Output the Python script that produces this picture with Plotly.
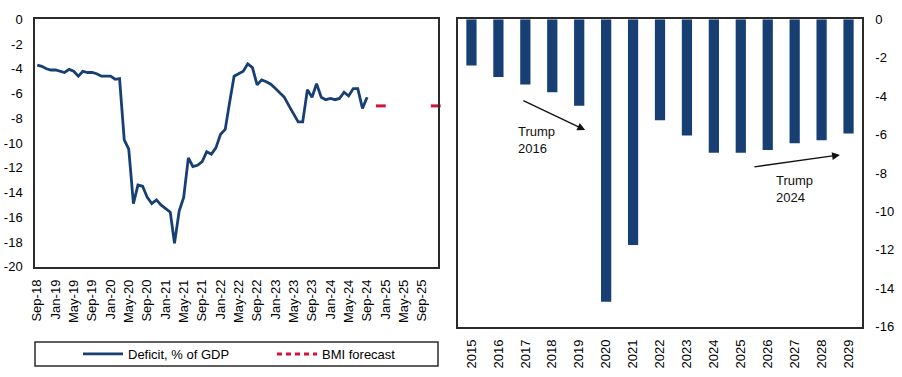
import plotly.graph_objects as go
import pandas as pd

# ---------------- data ----------------
# Left: monthly deficit, % of GDP, Sep-18 .. Sep-24
deficit_start = "2018-09-01"
deficit_values = [
    -3.7, -3.8, -4.0, -4.1, -4.1, -4.2, -4.3, -4.05, -4.2, -4.6, -4.2, -4.3,   # Sep-18..Aug-19
    -4.3, -4.4, -4.6, -4.6, -4.6, -4.85, -4.8, -9.75, -10.5, -14.9, -13.4, -13.5,  # Sep-19..Aug-20
    -14.4, -14.9, -14.6, -15.0, -15.3, -15.6, -18.1, -15.5, -14.4, -11.2, -11.9, -11.8,  # Sep-20..Aug-21
    -11.5, -10.7, -10.9, -10.4, -9.3, -8.9, -6.8, -4.6, -4.4, -4.2, -3.6, -3.9,  # Sep-21..Aug-22
    -5.3, -4.9, -5.05, -5.25, -5.6, -6.0, -6.3, -7.0, -7.6, -8.3, -8.3, -5.7,  # Sep-22..Aug-23
    -6.3, -5.2, -6.3, -6.5, -6.4, -6.5, -6.4, -5.9, -6.2, -5.6, -5.6, -7.2,  # Sep-23..Aug-24
    -6.3,  # Sep-24
]
forecast_dates = ["2024-12-01", "2025-12-01"]
forecast_values = [-7.0, -7.0]

left_tick_labels = ["Sep-18", "Jan-19", "May-19", "Sep-19", "Jan-20", "May-20", "Sep-20",
                    "Jan-21", "May-21", "Sep-21", "Jan-22", "May-22", "Sep-22", "Jan-23",
                    "May-23", "Sep-23", "Jan-24", "May-24", "Sep-24", "Jan-25", "May-25", "Sep-25"]
left_y_ticks = [0, -2, -4, -6, -8, -10, -12, -14, -16, -18, -20]

# Right: annual deficit, % of GDP
years = ["2015", "2016", "2017", "2018", "2019", "2020", "2021", "2022",
         "2023", "2024", "2025", "2026", "2027", "2028", "2029"]
annual_values = [-2.4, -3.0, -3.4, -3.8, -4.5, -14.7, -11.75, -5.25,
                 -6.05, -6.95, -6.95, -6.8, -6.45, -6.3, -5.95]
right_y_ticks = [0, -2, -4, -6, -8, -10, -12, -14, -16]

# ---------------- build ----------------
W, H = 902, 377
NAVY = "#173f74"
RED = "#d4123a"
FONT = "Liberation Sans, Arial, sans-serif"

def px_x(p):
    return p / W

def px_y(p):
    return (H - p) / H

months = pd.date_range(deficit_start, periods=len(deficit_values), freq="MS")
tick_dates = pd.date_range("2018-09-01", periods=len(left_tick_labels), freq="4MS")

fig = go.Figure()

fig.add_trace(go.Scatter(
    x=months, y=deficit_values, mode="lines", name="Deficit, % of GDP",
    line=dict(color=NAVY, width=2.8), xaxis="x", yaxis="y",
))
fig.add_trace(go.Scatter(
    x=forecast_dates, y=forecast_values, mode="markers", name="BMI forecast",
    marker=dict(symbol="line-ew", size=7, line=dict(color=RED, width=3)),
    showlegend=False, xaxis="x", yaxis="y", cliponaxis=False,
))
# legend entry for the forecast (dashed sample)
fig.add_trace(go.Scatter(
    x=[None], y=[None], mode="lines", name="BMI forecast",
    line=dict(color=RED, width=3, dash="5px,4px"), xaxis="x", yaxis="y",
))

fig.add_trace(go.Bar(
    x=years, y=annual_values, marker=dict(color=NAVY, line=dict(width=0)),
    width=0.38, showlegend=False, xaxis="x2", yaxis="y2",
))

axis_common = dict(
    showline=True, mirror=True, linecolor="#2b2b2b", linewidth=1.5,
    showgrid=False, zeroline=False, ticks="", automargin=False,
    tickfont=dict(family=FONT, size=13, color="#000"),
)

fig.update_layout(
    width=W, height=H,
    margin=dict(l=0, r=0, t=0, b=0, autoexpand=False),
    paper_bgcolor="white", plot_bgcolor="white",
    font=dict(family=FONT, size=13, color="#000"),
    xaxis=dict(
        domain=[px_x(35), px_x(438)], anchor="y", type="date",
        range=["2018-08-17", "2025-12-16"],
        tickvals=tick_dates, ticktext=left_tick_labels, tickangle=-90,
        ticklabelstandoff=6, **axis_common,
    ),
    yaxis=dict(
        domain=[px_y(266.7), px_y(19.3)], anchor="x",
        range=[-20, 0], tickvals=left_y_ticks,
        ticktext=[str(v) for v in left_y_ticks],
        ticklabelstandoff=8, **axis_common,
    ),
    xaxis2=dict(
        domain=[px_x(458), px_x(862)], anchor="y2", type="category",
        range=[-0.5, len(years) - 0.5], tickangle=-90,
        ticklabelstandoff=6, **axis_common,
    ),
    yaxis2=dict(
        domain=[px_y(326.7), px_y(19.3)], anchor="x2", side="right",
        range=[-16, 0], tickvals=right_y_ticks,
        ticktext=[str(v) for v in right_y_ticks],
        ticklabelstandoff=9, **axis_common,
    ),
    legend=dict(
        orientation="h", x=px_x(78), xanchor="left", y=px_y(354), yanchor="middle",
        bgcolor="rgba(0,0,0,0)", font=dict(family=FONT, size=13, color="#000"),
        entrywidth=139, entrywidthmode="pixels", itemwidth=40,
    ),
    shapes=[dict(
        type="rect", xref="paper", yref="paper",
        x0=px_x(35), x1=px_x(438), y0=px_y(366), y1=px_y(342),
        line=dict(color="#2b2b2b", width=1.5), fillcolor="rgba(0,0,0,0)",
    )],
    annotations=[
        dict(x=4.22, y=-5.76, xref="x2", yref="y2", ax=1.87, ay=-4.2, axref="x2", ayref="y2",
             showarrow=True, arrowhead=2, arrowsize=1.2, arrowwidth=1.3, arrowcolor="#111", text=""),
        dict(x=13.68, y=-7.06, xref="x2", yref="y2", ax=10.45, ay=-7.69, axref="x2", ayref="y2",
             showarrow=True, arrowhead=2, arrowsize=1.2, arrowwidth=1.3, arrowcolor="#111", text=""),
        dict(x=2.43, y=-6.28, xref="x2", yref="y2", text="Trump<br>2016", showarrow=False,
             align="left", font=dict(family=FONT, size=13, color="#111")),
        dict(x=12.0, y=-8.81, xref="x2", yref="y2", text="Trump<br>2024", showarrow=False,
             align="left", font=dict(family=FONT, size=13, color="#111")),
    ],
)

fig.write_html("out.html", config={"displayModeBar": False},
               post_script="document.body.style.margin='0';")
